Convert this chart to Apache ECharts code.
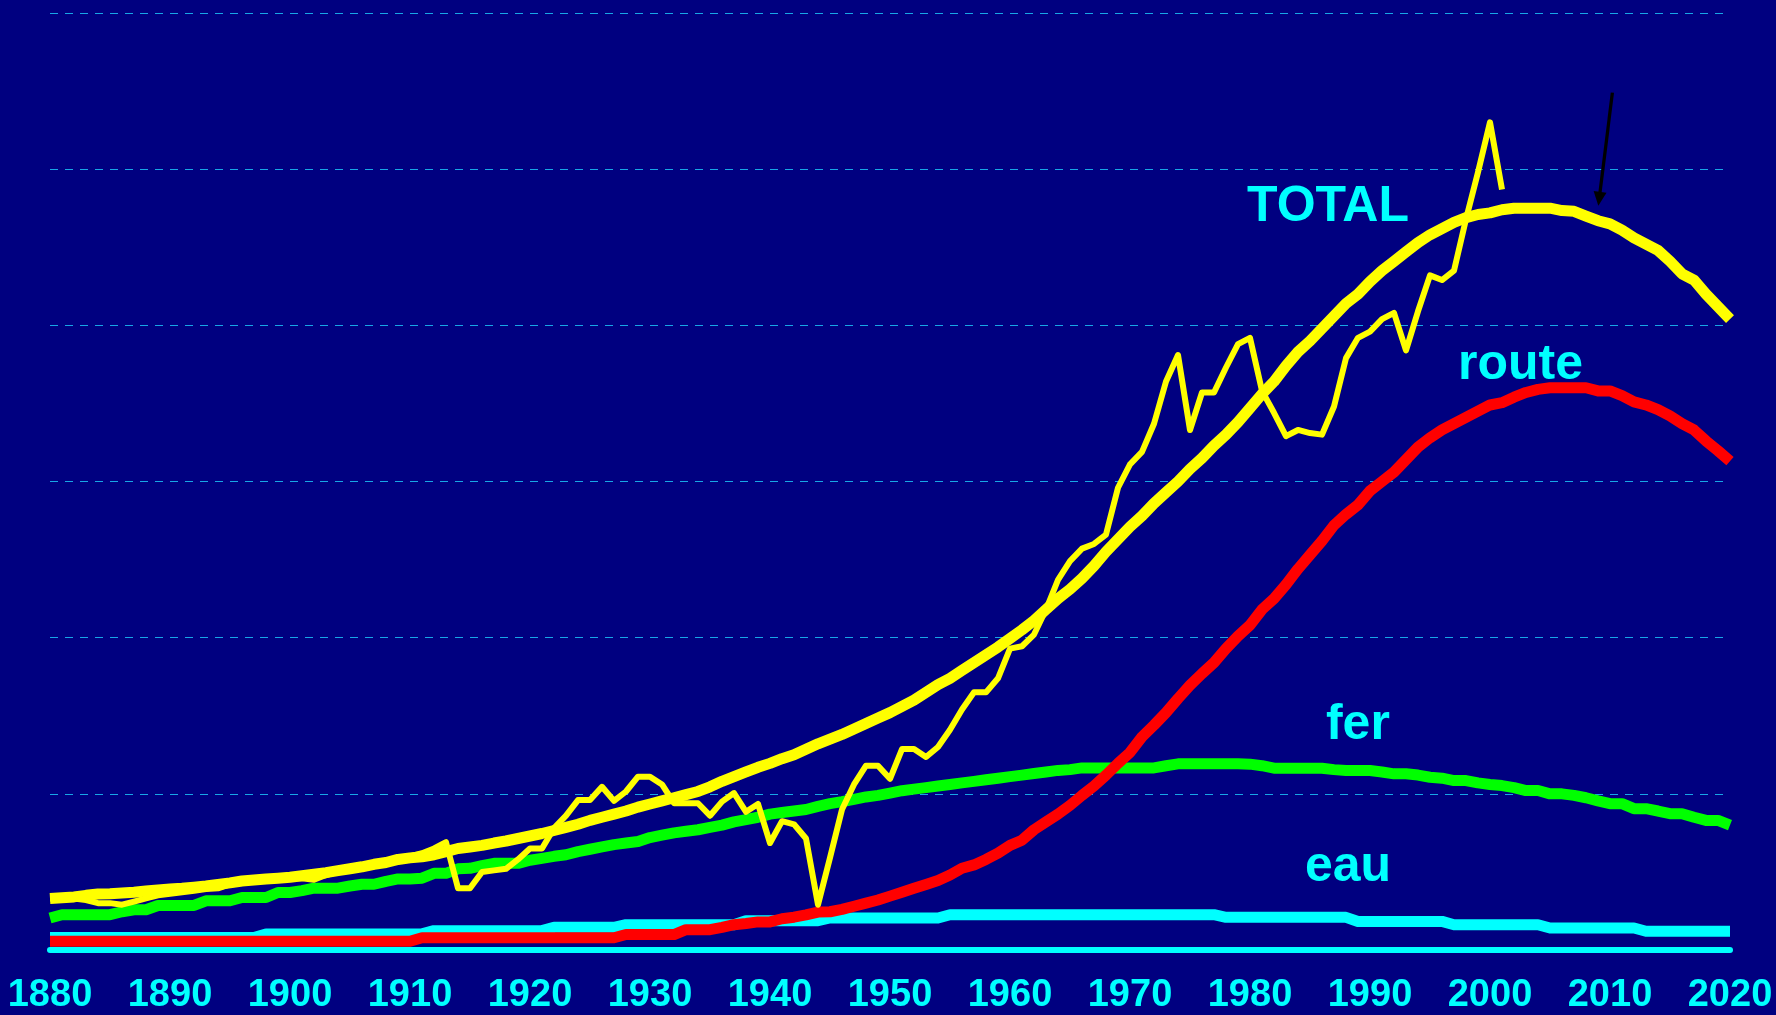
<!DOCTYPE html>
<html>
<head>
<meta charset="utf-8">
<script src="https://cdn.jsdelivr.net/npm/echarts@6/dist/echarts.min.js"></script>
<style>
  html, body { margin: 0; padding: 0; background: #000080; }
  #chart { width: 1776px; height: 1015px; }
</style>
</head>
<body>
<div id="chart"></div>
<script>
// Yearly series, 1880 -> 2020
const firstYear = 1880;
const lastYear = 2020;
const xTicks = [1880, 1890, 1900, 1910, 1920, 1930, 1940, 1950, 1960, 1970, 1980, 1990, 2000, 2010, 2020];

// TOTAL, smoothed trend (thick yellow)
const totalTrend = [
  3.3, 3.35, 3.4, 3.5, 3.58, 3.6, 3.65, 3.7, 3.78, 3.85,
  3.9, 3.95, 4.02, 4.1, 4.2, 4.3, 4.42, 4.48, 4.55, 4.6,
  4.66, 4.75, 4.85, 4.95, 5.08, 5.2, 5.33, 5.49, 5.6, 5.8,
  5.9, 5.97, 6.1, 6.3, 6.5, 6.6, 6.7, 6.85, 6.98, 7.14,
  7.3, 7.46, 7.65, 7.85, 8.05, 8.3, 8.5, 8.7, 8.9, 9.15,
  9.35, 9.55, 9.75, 9.95, 10.15, 10.45, 10.8, 11.1, 11.4, 11.7,
  11.95, 12.25, 12.5, 12.85, 13.2, 13.5, 13.8, 14.15, 14.5, 14.85,
  15.2, 15.6, 16.0, 16.5, 17.0, 17.4, 17.9, 18.4, 18.9, 19.4,
  19.95, 20.5, 21.1, 21.8, 22.5, 23.1, 23.8, 24.6, 25.5, 26.3,
  27.1, 27.8, 28.6, 29.3, 30.0, 30.8, 31.5, 32.3, 33.0, 33.8,
  34.7, 35.6, 36.4, 37.4, 38.3, 39.0, 39.8, 40.6, 41.4, 42.0,
  42.8, 43.5, 44.1, 44.7, 45.3, 45.8, 46.2, 46.6, 46.9, 47.1,
  47.2, 47.4, 47.5, 47.5, 47.5, 47.5, 47.35, 47.3, 47.0, 46.7,
  46.5, 46.1, 45.6, 45.2, 44.8, 44.1, 43.3, 42.9, 42.0, 41.2,
  40.4
];

// TOTAL, yearly observed values 1880 -> 2001 (thin yellow)
const totalObserved = [
  3.3, 3.3, 3.3, 3.2, 3.0, 3.0, 2.9, 3.1, 3.3, 3.5,
  3.6, 3.7, 3.8, 3.9, 3.95, 4.2, 4.3, 4.4, 4.5, 4.55,
  4.6, 4.6, 4.5, 4.8, 5.0, 5.1, 5.3, 5.5, 5.6, 5.8,
  6.0, 6.2, 6.5, 6.9, 3.95, 3.95, 5.0, 5.1, 5.2, 5.8,
  6.5, 6.5, 7.8, 8.6, 9.6, 9.6, 10.45, 9.55, 10.15, 11.1,
  11.1, 10.6, 9.4, 9.4, 9.4, 8.6, 9.5, 10.05, 8.85, 9.35,
  6.85, 8.25, 8.05, 7.14, 2.9, 5.9, 9.0, 10.6, 11.8, 11.8,
  10.96, 12.87, 12.87, 12.36, 13.0, 14.1, 15.4, 16.5, 16.5, 17.4,
  19.3, 19.45, 20.2, 21.8, 23.7, 24.9, 25.7, 26.0, 26.6, 29.6,
  31.1, 31.9, 33.7, 36.4, 38.1, 33.3, 35.7, 35.7, 37.3, 38.8,
  39.2, 35.8, 34.4, 32.9, 33.3, 33.1, 33.0, 34.8, 37.9, 39.2,
  39.6, 40.4, 40.8, 38.4, 40.9, 43.2, 42.9, 43.5, 46.8, 49.8,
  53.0, 48.7
];

// fer (green)
const railValues = [
  2.05, 2.26, 2.26, 2.26, 2.26, 2.26, 2.45, 2.58, 2.58, 2.85,
  2.85, 2.85, 2.85, 3.15, 3.15, 3.15, 3.36, 3.36, 3.36, 3.68,
  3.68, 3.8, 3.96, 3.96, 3.96, 4.1, 4.21, 4.21, 4.4, 4.55,
  4.55, 4.6, 4.91, 4.91, 5.2, 5.23, 5.4, 5.55, 5.55, 5.55,
  5.75, 5.87, 6.0, 6.1, 6.3, 6.45, 6.6, 6.75, 6.85, 6.95,
  7.2, 7.35, 7.5, 7.6, 7.7, 7.85, 8.0, 8.2, 8.35, 8.5,
  8.7, 8.8, 8.9, 9.0, 9.2, 9.37, 9.5, 9.65, 9.8, 9.9,
  10.05, 10.2, 10.3, 10.4, 10.5, 10.6, 10.7, 10.8, 10.9, 11.0,
  11.1, 11.2, 11.3, 11.4, 11.5, 11.55, 11.66, 11.66, 11.66, 11.66,
  11.66, 11.66, 11.66, 11.8, 11.92, 11.92, 11.92, 11.92, 11.92, 11.92,
  11.9, 11.8, 11.64, 11.64, 11.64, 11.64, 11.64, 11.55, 11.49, 11.49,
  11.49, 11.4, 11.28, 11.28, 11.2, 11.06, 11.0, 10.85, 10.85, 10.7,
  10.6, 10.53, 10.4, 10.21, 10.21, 10.0, 10.0, 9.9, 9.75, 9.55,
  9.37, 9.37, 9.05, 9.05, 8.9, 8.73, 8.73, 8.5, 8.3, 8.3,
  8.0
];

// route (red)
const roadValues = [
  0.56, 0.56, 0.56, 0.56, 0.56, 0.56, 0.56, 0.56, 0.56, 0.56,
  0.56, 0.56, 0.56, 0.56, 0.56, 0.56, 0.56, 0.56, 0.56, 0.56,
  0.56, 0.56, 0.56, 0.56, 0.56, 0.56, 0.56, 0.56, 0.56, 0.56,
  0.56, 0.78, 0.78, 0.78, 0.78, 0.78, 0.78, 0.78, 0.78, 0.78,
  0.78, 0.78, 0.78, 0.78, 0.78, 0.78, 0.78, 0.78, 0.99, 0.99,
  0.99, 0.99, 0.99, 1.3, 1.3, 1.3, 1.45, 1.62, 1.7, 1.8,
  1.8, 2.0, 2.1, 2.25, 2.43, 2.45, 2.6, 2.8, 3.0, 3.2,
  3.45, 3.7, 3.95, 4.2, 4.45, 4.8, 5.23, 5.45, 5.8, 6.2,
  6.7, 7.03, 7.7, 8.2, 8.7, 9.26, 9.9, 10.5, 11.2, 11.95,
  12.65, 13.65, 14.4, 15.2, 16.1, 16.95, 17.7, 18.4, 19.3, 20.1,
  20.8, 21.8, 22.5, 23.4, 24.4, 25.3, 26.2, 27.2, 27.9, 28.5,
  29.4, 30.0, 30.6, 31.4, 32.2, 32.8, 33.3, 33.7, 34.1, 34.5,
  34.9, 35.05, 35.4, 35.7, 35.9, 36.0, 36.0, 36.0, 36.0, 35.8,
  35.8, 35.5, 35.1, 34.9, 34.6, 34.2, 33.7, 33.3, 32.6, 31.97,
  31.3
];

// eau (cyan)
const waterValues = [
  0.8, 0.8, 0.8, 0.8, 0.8, 0.8, 0.8, 0.8, 0.8, 0.8,
  0.8, 0.8, 0.8, 0.8, 0.8, 0.8, 0.8, 0.8, 1.03, 1.03,
  1.03, 1.03, 1.03, 1.03, 1.03, 1.03, 1.03, 1.03, 1.03, 1.03,
  1.03, 1.03, 1.24, 1.24, 1.24, 1.24, 1.24, 1.24, 1.24, 1.24,
  1.24, 1.24, 1.45, 1.45, 1.45, 1.45, 1.45, 1.45, 1.62, 1.62,
  1.62, 1.62, 1.62, 1.62, 1.62, 1.62, 1.62, 1.62, 1.88, 1.88,
  1.88, 1.88, 1.88, 1.88, 1.88, 2.05, 2.05, 2.05, 2.05, 2.05,
  2.05, 2.05, 2.05, 2.05, 2.05, 2.26, 2.26, 2.26, 2.26, 2.26,
  2.26, 2.26, 2.26, 2.26, 2.26, 2.26, 2.26, 2.26, 2.26, 2.26,
  2.26, 2.26, 2.26, 2.26, 2.26, 2.26, 2.26, 2.26, 2.09, 2.09,
  2.09, 2.09, 2.09, 2.09, 2.09, 2.09, 2.09, 2.09, 2.09, 1.83,
  1.83, 1.83, 1.83, 1.83, 1.83, 1.83, 1.83, 1.62, 1.62, 1.62,
  1.62, 1.62, 1.62, 1.62, 1.62, 1.41, 1.41, 1.41, 1.41, 1.41,
  1.41, 1.41, 1.41, 1.2, 1.2, 1.2, 1.2, 1.2, 1.2, 1.2,
  1.2
];

// Curve names, anchored in data space [year, value]
const curveLabels = [
  { text: 'TOTAL', at: [1979.75, 47.54] },
  { text: 'route', at: [1997.33, 37.42] },
  { text: 'fer',   at: [1986.33, 14.39] },
  { text: 'eau',   at: [1984.58, 5.27] }
];

// Arrow pointing at the TOTAL trend
const arrowFrom = [2010.2, 54.9];
const arrowTo = [2009.1, 48.1];

const byYear = vals => vals.map((v, i) => [firstYear + i, v]);

const FONT = '"Liberation Sans", Arial, Helvetica, sans-serif';

function lineSeries(name, vals, color, width, z) {
  return {
    name: name,
    type: 'line',
    data: byYear(vals),
    symbol: 'none',
    z: z,
    silent: true,
    lineStyle: { color: color, width: width, cap: 'butt', join: 'round' }
  };
}

const chart = echarts.init(document.getElementById('chart'), null, { renderer: 'canvas' });

const totalSeries = lineSeries('TOTAL', totalTrend, '#FFFF00', 11, 5);
totalSeries.markLine = {
  silent: true,
  animation: false,
  symbol: ['none', 'triangle'],
  symbolSize: [13, 14],
  label: { show: false },
  lineStyle: { color: '#000000', width: 3.3, type: 'solid' },
  data: [[{ coord: arrowFrom }, { coord: arrowTo }]]
};

chart.setOption({
  backgroundColor: '#000080',
  animation: false,
  grid: { left: 50, right: 46, top: 13, bottom: 59, containLabel: false },
  xAxis: {
    type: 'value',
    min: firstYear,
    max: lastYear,
    interval: 10,
    axisLine: { show: true, lineStyle: { color: '#00FFFF', width: 6, cap: 'round' } },
    axisTick: { show: false },
    splitLine: { show: false },
    axisLabel: {
      color: '#00FFFF',
      fontSize: 38,
      fontWeight: 'bold',
      fontFamily: FONT,
      margin: 27,
      formatter: v => xTicks.indexOf(v) >= 0 ? String(v) : ''
    }
  },
  yAxis: {
    type: 'value',
    min: 0,
    max: 60,
    interval: 10,
    axisLine: { show: false },
    axisTick: { show: false },
    axisLabel: { show: false },
    splitLine: { show: true, lineStyle: { color: '#18A6E6', width: 1, type: [8, 7] } }
  },
  series: [
    lineSeries('eau', waterValues, '#00FFFF', 11, 2),
    lineSeries('fer', railValues, '#00FF00', 11, 3),
    lineSeries('route', roadValues, '#FF0000', 11, 4),
    totalSeries,
    lineSeries('TOTAL observé', totalObserved, '#FFFF00', 6, 6)
  ]
});

chart.setOption({
  graphic: curveLabels.map(l => {
    const p = chart.convertToPixel({ gridIndex: 0 }, l.at);
    return {
      type: 'text',
      x: p[0],
      y: p[1],
      z: 10,
      silent: true,
      style: {
        text: l.text,
        fill: '#00FFFF',
        fontSize: 50,
        fontWeight: 'bold',
        fontFamily: FONT,
        align: 'left',
        verticalAlign: 'middle'
      }
    };
  })
});
</script>
</body>
</html>
